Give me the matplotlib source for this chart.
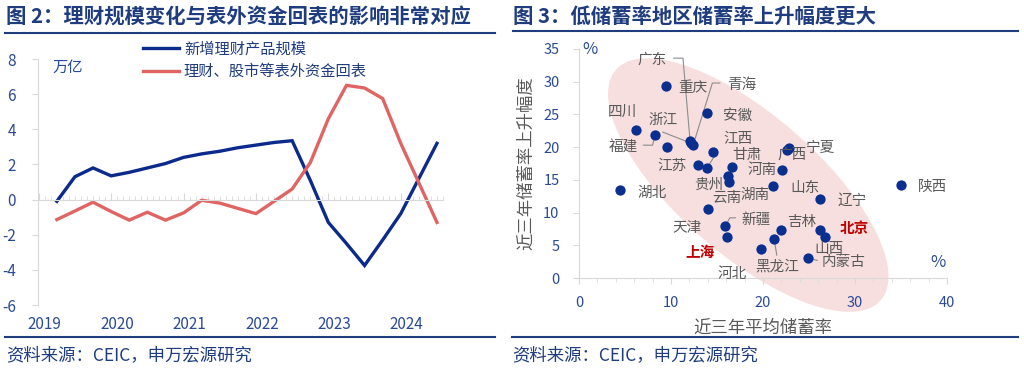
import numpy as np
import matplotlib
matplotlib.use('Agg')
import matplotlib.pyplot as plt
from matplotlib.lines import Line2D
import matplotlib.transforms as mtransforms

plt.rcParams['font.family'] = ['Noto Sans CJK SC', 'DejaVu Sans']
plt.rcParams['axes.unicode_minus'] = False

# ---- figure 2 data (quarterly, 2019Q1 .. 2024Q2) ----
quarters = 2019.25 + 0.25 * np.arange(22)
wm_new = [-0.1, 1.3, 1.8, 1.35, 1.55, 1.8, 2.05, 2.4, 2.6, 2.75, 2.95, 3.1,
          3.25, 3.35, 1.1, -1.3, -2.5, -3.75, -2.3, -0.8, 1.2, 3.2]
back_flow = [-1.14, -0.65, -0.15, -0.68, -1.17, -0.72, -1.17, -0.76, -0.04, -0.2, -0.5, -0.8,
             -0.1, 0.6, 2.1, 4.6, 6.5, 6.35, 5.75, 3.2, 0.95, -1.3]
years = [2019, 2020, 2021, 2022, 2023, 2024]
series_names = ['新增理财产品规模', '理财、股市等表外资金回表']

# ---- figure 3 data: (avg saving rate 3y, rise of saving rate 3y) ----
prov = ['福建', '', '广东', '浙江', '青海', '江西', '江苏', '甘肃', '湖南', '贵州', '云南',
        '宁夏', '广西', '河南', '山东', '辽宁', '天津', '新疆', '上海', '河北', '黑龙江',
        '吉林', '北京', '山西', '内蒙古', '陕西', '湖北', '四川', '安徽', '重庆']
save_avg = [8.26, 9.53, 12.07, 12.2, 12.4, 14.6, 12.97, 13.9, 16.6, 16.2, 16.3,
            22.8, 22.6, 22.1, 21.05, 26.2, 14.05, 15.9, 16.05, 19.8, 21.2,
            22.0, 26.2, 26.7, 24.9, 35.0, 4.46, 6.2, 13.9, 9.5]
save_rise = [21.9, 20.0, 21.0, 20.6, 20.3, 19.3, 17.3, 16.8, 17.0, 15.6, 14.6,
             19.9, 19.6, 16.5, 14.0, 12.1, 10.5, 7.95, 6.3, 4.4, 6.0,
             7.4, 7.3, 6.2, 3.0, 14.2, 13.5, 22.6, 25.2, 29.4]

# label placement (text centre, data units)
label_at = {
    '广东': (7.9, 33.3), '重庆': (12.4, 29.05), '青海': (17.7, 29.5), '安徽': (17.2, 24.8),
    '四川': (4.7, 25.4), '浙江': (9.1, 24.2), '福建': (4.8, 20.0), '江苏': (10.1, 17.1),
    '贵州': (14.1, 14.2), '江西': (17.3, 21.3), '甘肃': (18.3, 18.8), '广西': (23.2, 18.8),
    '宁夏': (26.3, 19.9), '河南': (19.9, 16.5), '云南': (16.1, 12.2), '湖南': (19.1, 12.7),
    '山东': (24.6, 13.8), '辽宁': (29.7, 11.8), '陕西': (38.4, 13.9), '湖北': (7.9, 13.0),
    '天津': (11.7, 7.6), '新疆': (19.3, 8.9), '吉林': (24.2, 8.6), '北京': (29.9, 7.6),
    '上海': (13.2, 4.0), '山西': (27.2, 4.4), '河北': (16.6, 0.6), '黑龙江': (21.5, 1.7),
    '内蒙古': (28.7, 2.4),
}
highlight = ['北京', '上海']
# leader lines (label side anchor -> point)
leaders = {
    '广东': [(10.3, 33.6), (11.3, 33.6)],
    '青海': [(15.3, 29.8), (14.5, 29.8)],
    '浙江': [(9.1, 22.3)],
    '福建': [(7.0, 20.3), (8.0, 20.3)],
    '甘肃': [(14.9, 19.0)],
    '新疆': [(17.0, 9.2), (16.4, 9.2)],
    '黑龙江': [(21.5, 3.5)],
    '内蒙古': [(25.9, 2.7)],
}

navy = '#1f3c7e'
tick_blue = '#2b4a96'
gray = '#595959'
W, H = 1024, 372

fig = plt.figure(figsize=(W / 100, H / 100), dpi=100)
fig.patch.set_facecolor('white')

def fx(px):
    return px / W

def fy(py):
    return 1 - py / H

# titles, rules, sources
fig.text(fx(6), fy(17), '图 2：理财规模变化与表外资金回表的影响非常对应', fontsize=14.7,
         fontweight='bold', color=navy, va='center', ha='left')
fig.text(fx(513), fy(17), '图 3：低储蓄率地区储蓄率上升幅度更大', fontsize=14.7,
         fontweight='bold', color=navy, va='center', ha='left')
for x0, x1, y in [(5, 495, 33), (513, 1018, 31), (5, 495, 337), (512, 1018, 337)]:
    fig.add_artist(Line2D([fx(x0), fx(x1)], [fy(y), fy(y)], color=navy, lw=1.5))
fig.text(fx(6), fy(355), '资料来源：CEIC，申万宏源研究', fontsize=12.5, color=navy, va='center')
fig.text(fx(512), fy(355), '资料来源：CEIC，申万宏源研究', fontsize=12.5, color=navy, va='center')

# ---------------- left chart ----------------
ax1 = fig.add_axes([fx(38), fy(305), fx(443 - 38), (305 - 59) / H])
ax1.plot(quarters, wm_new, color='#0b2a8c', lw=2.4, label=series_names[0], solid_joinstyle='miter')
ax1.plot(quarters, back_flow, color='#e06464', lw=2.4, label=series_names[1], solid_joinstyle='miter')
ax1.set_xlim(2018.99, 2024.56)
ax1.set_ylim(-6, 8)
ax1.set_yticks(np.arange(-6, 9, 2))
ax1.set_xticks(years)
ax1.set_xticks(np.arange(2019, 2024.6, 1 / 12), minor=True)
for s in ['top', 'right']:
    ax1.spines[s].set_visible(False)
ax1.spines['left'].set_color('#d9d9d9')
ax1.spines['bottom'].set_color('#d9d9d9')
ax1.spines['bottom'].set_position(('data', 0))
ax1.tick_params(axis='y', colors='#d9d9d9', labelcolor=tick_blue, labelsize=11, length=4, pad=12)
ax1.tick_params(axis='x', which='major', direction='in', colors='#d9d9d9', labelcolor=tick_blue,
                labelsize=11, length=5, pad=84)
ax1.tick_params(axis='x', which='minor', direction='in', colors='#d9d9d9', length=3)
shift = mtransforms.ScaledTranslation(6 / 100, 0, fig.dpi_scale_trans)
for lab in ax1.get_xticklabels():
    lab.set_transform(lab.get_transform() + shift)
ax1.text(0.035, 0.965, '万亿', transform=ax1.transAxes, fontsize=11, color=tick_blue,
         ha='left', va='center')
leg = ax1.legend(loc='upper left', bbox_to_anchor=(fx(135), fy(33)),
                 bbox_transform=fig.transFigure, frameon=False, fontsize=11,
                 handlelength=2.4, handletextpad=0.3, labelspacing=0.35, borderpad=0)
for t in leg.get_texts():
    t.set_color(navy)

# ---------------- right chart ----------------
ax2 = fig.add_axes([fx(579), fy(278), fx(947 - 579), (278 - 49) / H])
ax2.set_xlim(0, 40)
ax2.set_ylim(0, 35)

# shaded ellipse, drawn in pixel proportions
t = np.linspace(0, 2 * np.pi, 200)
cx, cy = 18.4, 14.2
ex = cx + 14.4 * np.cos(t) + 5.0 * np.sin(t)
ey = cy - 17.6 * np.cos(t) + 8.1 * np.sin(t)
ax2.fill(ex, ey, color='#f6dfde', zorder=0, clip_on=False, lw=0)

ax2.scatter(save_avg, save_rise, s=55, color='#0b2f8f', zorder=3, lw=0)
for name, xv, yv in zip(prov, save_avg, save_rise):
    if not name:
        continue
    lx, ly = label_at[name]
    if name in highlight:
        ax2.text(lx, ly, name, fontsize=10.5, color='#c00000', fontweight='bold',
                 ha='center', va='center', zorder=4)
    else:
        ax2.text(lx, ly, name, fontsize=10.5, color=gray, ha='center', va='center', zorder=4)
    if name in leaders:
        pts = leaders[name] + [(xv, yv)]
        ax2.plot([p[0] for p in pts], [p[1] for p in pts], color='#8c8c8c', lw=0.8, zorder=2)

for s in ['top', 'right']:
    ax2.spines[s].set_visible(False)
ax2.spines['left'].set_color('#d9d9d9')
ax2.spines['bottom'].set_color('#d9d9d9')
ax2.set_xticks([0, 10, 20, 30, 40])
ax2.set_xticks(np.arange(0, 41, 2), minor=True)
ax2.set_yticks(np.arange(0, 36, 5))
ax2.tick_params(axis='both', colors='#d9d9d9', labelcolor=tick_blue, labelsize=10.5, length=4)
ax2.tick_params(axis='x', which='minor', colors='#d9d9d9', length=3)
ax2.tick_params(axis='y', pad=10)
ax2.tick_params(axis='x', pad=9)
ax2.text(1.2, 34.9, '%', fontsize=12, color=tick_blue, ha='center', va='center')
ax2.text(39.0, 2.4, '%', fontsize=12, color=tick_blue, ha='center', va='center')
ax2.set_xlabel('近三年平均储蓄率', fontsize=12.5, color=gray, labelpad=6)
ax2.set_ylabel('近三年储蓄率上升幅度', fontsize=12.5, color=gray, labelpad=6)

fig.savefig('out.png', dpi=100)
